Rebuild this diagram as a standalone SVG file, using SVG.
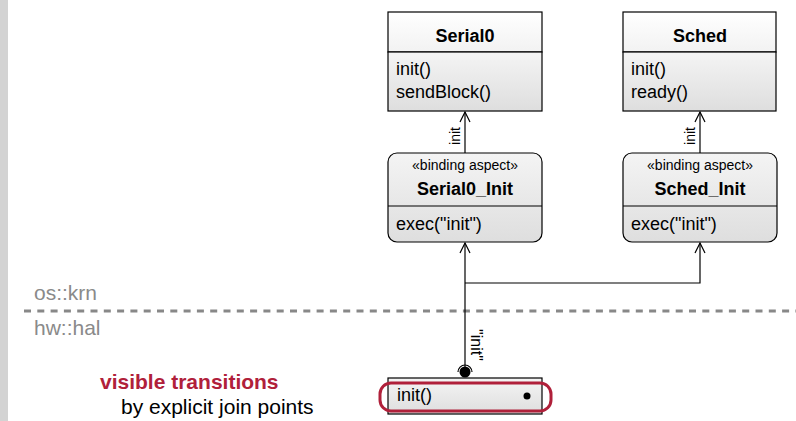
<svg xmlns="http://www.w3.org/2000/svg" width="796" height="421" viewBox="0 0 796 421">
<defs>
<linearGradient id="g" x1="0" y1="0" x2="0" y2="1"><stop offset="0" stop-color="#f4f4f4"/><stop offset="1" stop-color="#dedede"/></linearGradient>
<linearGradient id="gh" x1="0" y1="0" x2="0" y2="1"><stop offset="0" stop-color="#ffffff"/><stop offset="1" stop-color="#f2f2f2"/></linearGradient>
<marker id="open" markerWidth="12" markerHeight="12" viewBox="0 0 12 12" refX="11" refY="6" orient="auto" markerUnits="userSpaceOnUse"><path d="M1,1 L11,6 L1,11" fill="none" stroke="#000" stroke-width="1.2"/></marker>
</defs>
<style>
text{font-family:"Liberation Sans",Arial,sans-serif;fill:#000}
.t{font-size:18px;font-weight:bold;text-anchor:middle}
.m{font-size:18px}
.s{font-size:14px;text-anchor:middle}
.box{stroke:#000;stroke-width:1.2}
.ln{fill:none;stroke:#000;stroke-width:1.2}
.pk{font-size:21px;fill:#8a8a8a}
</style>
<rect x="0" y="0" width="8" height="421" fill="#d3d3d3"/>
<g id="layers">
<line x1="24" y1="311" x2="796" y2="311" stroke="#888" stroke-width="3" stroke-dasharray="7 6.3"/>
<text class="pk" x="34" y="300">os::krn</text>
<text class="pk" x="34" y="335">hw::hal</text>
</g>
<g id="Serial0">
<rect class="box" x="388" y="12" width="154" height="40" fill="url(#gh)"/>
<rect class="box" x="388" y="52" width="154" height="59" fill="url(#g)"/>
<text class="t" x="465" y="42">Serial0</text>
<text class="m" x="396" y="75">init()</text>
<text class="m" x="396" y="98">sendBlock()</text>
</g>
<g id="Sched">
<rect class="box" x="623" y="12" width="153" height="40" fill="url(#gh)"/>
<rect class="box" x="623" y="52" width="153" height="59" fill="url(#g)"/>
<text class="t" x="700" y="42">Sched</text>
<text class="m" x="631" y="75">init()</text>
<text class="m" x="631" y="98">ready()</text>
</g>
<g id="Serial0_Init">
<rect class="box" x="388" y="153" width="154" height="89" rx="9" fill="url(#g)"/>
<line class="ln" x1="388" y1="206" x2="542" y2="206"/>
<text class="s" x="465" y="170">«binding aspect»</text>
<text class="t" x="465" y="195">Serial0_Init</text>
<text class="m" x="396" y="230">exec("init")</text>
</g>
<g id="Sched_Init">
<rect class="box" x="623" y="153" width="154" height="89" rx="9" fill="url(#g)"/>
<line class="ln" x1="623" y1="206" x2="777" y2="206"/>
<text class="s" x="700" y="170">«binding aspect»</text>
<text class="t" x="700" y="195">Sched_Init</text>
<text class="m" x="631" y="230">exec("init")</text>
</g>
<g id="hal_init">
<rect class="box" x="388" y="378" width="154" height="36" fill="url(#g)"/>
<text class="m" x="397" y="401">init()</text>
<circle cx="527" cy="396" r="3.5" fill="#000"/>
<rect x="380" y="383" width="171" height="28" rx="11" fill="none" stroke="#b0203a" stroke-width="3"/>
</g>
<g id="connectors">
<line class="ln" x1="465" y1="153" x2="465" y2="112" marker-end="url(#open)"/>
<text transform="translate(460,136) rotate(-90)" style="font-size:14px;text-anchor:middle">init</text>
<line class="ln" x1="700" y1="153" x2="700" y2="112" marker-end="url(#open)"/>
<text transform="translate(695,136) rotate(-90)" style="font-size:14px;text-anchor:middle">init</text>
<line class="ln" x1="465" y1="372" x2="465" y2="243" marker-end="url(#open)"/>
<polyline class="ln" points="465,283 700,283 700,243" marker-end="url(#open)"/>
<circle cx="465" cy="372" r="5.5" fill="#000"/>
<path class="ln" d="M458,372 A7,7 0 0 1 472,372"/>
<text transform="translate(471,345) rotate(90)" style="font-size:16px;text-anchor:middle">"init"</text>
</g>
<g id="note">
<text x="100" y="389" style="font-size:21px;font-weight:bold;fill:#b0203a">visible transitions</text>
<text x="121" y="414" style="font-size:21px">by explicit join points</text>
</g>
</svg>
